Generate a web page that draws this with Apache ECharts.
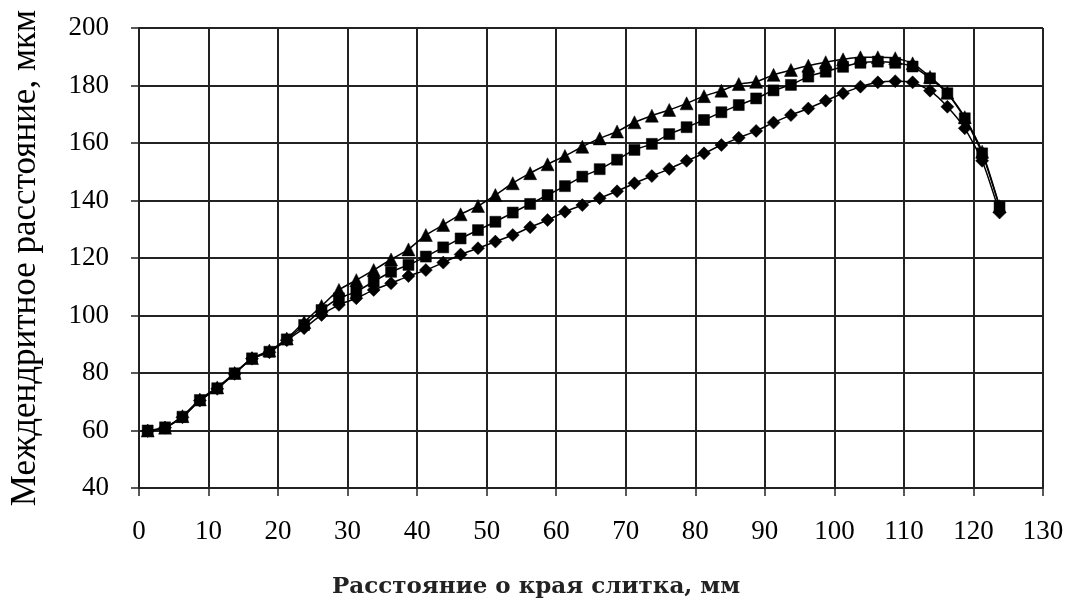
<!DOCTYPE html>
<html>
<head>
<meta charset="utf-8">
<script src="https://cdn.jsdelivr.net/npm/echarts@6/dist/echarts.min.js"></script>
<style>html,body{margin:0;padding:0;background:#fff;}#c{width:1067px;height:602px;}</style>
</head>
<body>
<div id="c"></div>
<script>
var xValues = [1.25,3.75,6.25,8.75,11.25,13.75,16.25,18.75,21.25,23.75,26.25,28.75,31.25,33.75,36.25,38.75,41.25,43.75,46.25,48.75,51.25,53.75,56.25,58.75,61.25,63.75,66.25,68.75,71.25,73.75,76.25,78.75,81.25,83.75,86.25,88.75,91.25,93.75,96.25,98.75,101.25,103.75,106.25,108.75,111.25,113.75,116.25,118.75,121.25,123.75];
var triangleValues = [60,61,65,70.8,75,80,85.2,87.8,92,97.7,103.3,108.9,112.3,115.8,119.5,123,128,131.5,135.2,138.1,141.9,146,149.5,152.6,155.5,158.7,161.6,164,167.2,169.5,171.5,173.8,176.3,178.2,180.5,181.3,183.7,185.4,186.9,188.1,189.1,189.8,189.8,189.5,187.7,183,177.5,169,157,138];
var squareValues = [60,61.1,64.8,70.6,74.7,79.9,85.1,87.4,91.7,96.7,101.9,106,108.3,111.8,115.2,117.6,120.5,123.7,126.8,129.7,132.6,135.8,138.8,141.9,145,148.3,150.9,154.2,157.6,159.7,163.1,165.5,168,170.7,173.2,175.5,178.3,180.2,183.1,184.8,186.5,187.9,188.3,187.9,186.6,182.5,177.3,168.6,156.4,137.8];
var diamondValues = [59.8,61,64.6,70.4,74.5,79.7,85,87.2,91.4,95.6,100.2,103.7,106,108.9,111.2,113.7,115.8,118.4,121.2,123.4,125.7,128,130.7,133.2,136.1,138.4,140.8,143.2,146,148.5,151,153.8,156.4,159.3,161.8,164.2,167.1,169.7,172,174.7,177.3,179.6,181.1,181.5,181.1,178.2,172.6,165.1,153.8,135.8];
var xTicks = [0,10,20,30,40,50,60,70,80,90,100,110,120,130];
var yTicks = [40,60,80,100,120,140,160,180,200];
var xTitle = 'Расстояние о края слитка, мм';
var yTitle = 'Междендритное расстояние, мкм';

var SERIF = '"Liberation Serif", "Times New Roman", Times, serif';
function pairs(ys){ return xValues.map(function(x,i){ return [x, ys[i]]; }); }
function mk(name, symbol, size, ys){
  return {
    name: name, type: 'line', data: pairs(ys), symbol: symbol, symbolSize: size,
    smooth: 0.2, showAllSymbol: true,
    lineStyle: {color: '#000', width: 1.5},
    itemStyle: {color: '#000', borderColor: '#000', borderWidth: 0.5},
    emphasis: {disabled: true}, animation: false
  };
}
var chart = echarts.init(document.getElementById('c'), null, {renderer: 'canvas'});
chart.setOption({
  backgroundColor: '#fff',
  animation: false,
  grid: {left: 129, right: 24, top: 28, bottom: 114, containLabel: false},
  graphic: [{
    type: 'text', left: 540 - 208, top: 576,
    style: {text: xTitle, font: 'bold 23px "DejaVu Serif", serif', fill: '#222'}
  }],
  xAxis: {
    type: 'value', min: xTicks[0], max: xTicks[xTicks.length-1], interval: 10,
    axisLine: {show: true, lineStyle: {color: '#222', width: 2}},
    axisTick: {show: true, length: 8, inside: false, lineStyle: {color: '#222', width: 1.5}},
    axisLabel: {margin: 30, fontFamily: SERIF, fontSize: 27, color: '#000'},
    splitLine: {show: true, lineStyle: {color: '#222', width: 2}}
  },
  yAxis: {
    type: 'value', min: yTicks[0], max: yTicks[yTicks.length-1], interval: 20,
    name: yTitle, nameLocation: 'middle', nameGap: 96, nameRotate: 90,
    nameTextStyle: {fontFamily: SERIF, fontSize: 35, color: '#000'},
    axisLine: {show: true, lineStyle: {color: '#222', width: 2}},
    axisTick: {show: true, length: 8, inside: false, lineStyle: {color: '#222', width: 1.5}},
    axisLabel: {margin: 30, fontFamily: SERIF, fontSize: 27, color: '#000'},
    splitLine: {show: true, lineStyle: {color: '#222', width: 2}}
  },
  series: [
    mk('triangle', 'triangle', 13, triangleValues),
    mk('diamond', 'diamond', 13, diamondValues),
    mk('square', 'rect', 11, squareValues)
  ]
});
</script>
</body>
</html>
